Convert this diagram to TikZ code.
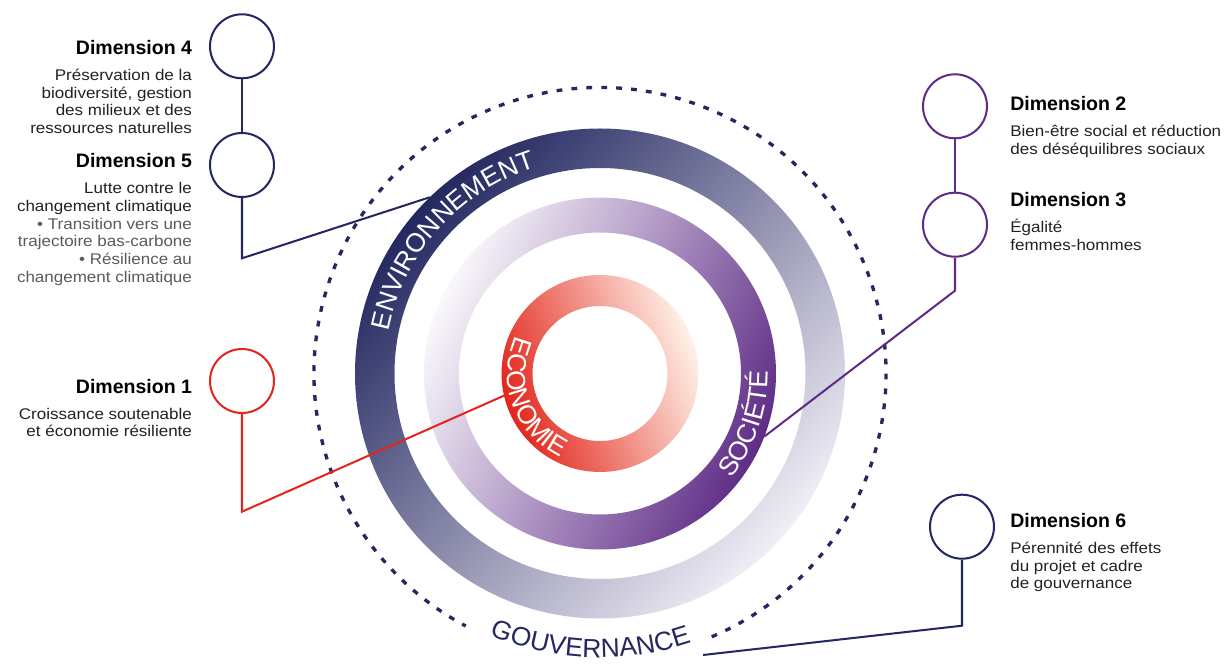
\documentclass[tikz,border=0pt]{standalone}
\usepackage{fontspec}
\setmainfont{Liberation Sans}
\newfontfamily\bodyfont{Liberation Sans}[FakeStretch=1.1]
\usetikzlibrary{decorations.text}
\definecolor{envnavy}{RGB}{35,40,96}
\definecolor{envmid}{RGB}{88,74,128}
\definecolor{envlight}{RGB}{241,238,246}
\definecolor{socpurple}{RGB}{94,44,134}
\definecolor{socmid}{RGB}{162,134,194}
\definecolor{soclight}{RGB}{250,248,252}
\definecolor{ecored}{RGB}{226,38,28}
\definecolor{ecomid}{RGB}{240,138,84}
\definecolor{ecolight}{RGB}{254,242,232}
\definecolor{textdark}{RGB}{34,34,34}
\definecolor{textgray}{RGB}{90,90,90}
\newcommand\headfont{\normalfont\bfseries\fontsize{11.1}{10.07}\selectfont\color{black}}
\newcommand\ringfont{\fontsize{15}{16}\selectfont}

\begin{document}
\begin{tikzpicture}[
dimcircle/.style={circle, draw=#1, line width=1.15pt, minimum size=1.28cm, inner sep=0pt},
link/.style={draw=#1, line width=1.15pt},
dimtext/.style={inner sep=0pt, font=\bodyfont\fontsize{8.8}{10.07}\selectfont, text=textdark},
leftdim/.style={dimtext, align=right, anchor=base east},
rightdim/.style={dimtext, align=left, anchor=base west}
]
\useasboundingbox (-12,-5.81) rectangle (12.62,7.47);

% gouvernance
\draw[envnavy, line width=1.9pt, dash pattern=on 3.3pt off 5.2pt] (293:5.72) arc[start angle=293, end angle=602, radius=5.72];
\path[decorate, decoration={text along path, text align=center, text={|\ringfont\color{envnavy}|GOUVERNANCE}}] (238:5.68) arc[start angle=238, end angle=298, radius=5.68];

% rings
\shade[even odd rule, top color=envnavy, middle color=envmid, bottom color=envlight, shading angle=48] (0,0) circle (4.9) (0,0) circle (4.11);
\shade[even odd rule, top color=socpurple, middle color=socmid, bottom color=soclight, shading angle=-115] (0,0) circle (3.52) (0,0) circle (2.82);
\shade[even odd rule, top color=ecored, middle color=ecomid, bottom color=ecolight, shading angle=110] (0,0) circle (1.97) (0,0) circle (1.35);

\path[decorate, decoration={text along path, text align=center, text={|\ringfont\color{white}|ENVIRONNEMENT}}] (178:4.32) arc[start angle=178, end angle=98, radius=4.32];
\path[decorate, decoration={text along path, text align=center, text={|\ringfont\color{white}|SOCIÉTÉ}}] (-60:3.36) arc[start angle=-60, end angle=22, radius=3.36];
\path[decorate, decoration={text along path, text align=center, text={|\ringfont\color{white}|ECONOMIE}}] (140:1.85) arc[start angle=140, end angle=261, radius=1.85];

% dimensions
\node[dimcircle=envnavy] (d4) at (-7.16,6.544) {};
\node[dimcircle=envnavy] (d5) at (-7.16,4.17) {};
\node[dimcircle=ecored] (d1) at (-7.16,-0.15) {};
\node[dimcircle=socpurple] (d2) at (7.1,5.344) {};
\node[dimcircle=socpurple] (d3) at (7.1,2.976) {};
\node[dimcircle=envnavy] (d6) at (7.24,-3.064) {};

\coordinate (d5knee) at (-7.16,2.304);
\coordinate (envtouch) at (134:4.9);
\coordinate (d1knee) at (-7.16,-2.764);
\coordinate (ecotouch) at (193:1.97);
\coordinate (d3knee) at (7.1,1.656);
\coordinate (soctouch) at (-21:3.52);
\coordinate (d6knee) at (7.24,-5.044);
\coordinate (govtouch) at (2.06,-5.63);

\draw[link=envnavy] (d4) -- (d5);
\draw[link=envnavy] (d5) -- (d5knee) -- (envtouch);
\draw[link=ecored] (d1) -- (d1knee) -- (ecotouch);
\draw[link=socpurple] (d2) -- (d3);
\draw[link=socpurple] (d3) -- (d3knee) -- (soctouch);
\draw[link=envnavy] (d6) -- (d6knee) -- (govtouch);

% texts (base = last line)
\node[leftdim] (t4) at (-8.154,4.802) {{\headfont Dimension 4}\\[4.7pt]Préservation de la\\biodiversité, gestion\\des milieux et des\\ressources naturelles};
\node[leftdim] (t5) at (-8.154,1.826) {{\headfont Dimension 5}\\[4.7pt]Lutte contre le\\changement climatique\\\textcolor{textgray}{• Transition vers une}\\\textcolor{textgray}{trajectoire bas-carbone}\\\textcolor{textgray}{• Résilience au}\\\textcolor{textgray}{changement climatique}};
\node[leftdim] (t1) at (-8.154,-1.27) {{\headfont Dimension 1}\\[4.7pt]Croissance soutenable\\et économie résiliente};
\node[rightdim] (t2) at (8.2,4.382) {{\headfont Dimension 2}\\[4.7pt]Bien-être social et réduction\\des déséquilibres sociaux};
\node[rightdim] (t3) at (8.2,2.462) {{\headfont Dimension 3}\\[4.7pt]Égalité\\femmes-hommes};
\node[rightdim] (t6) at (8.2,-4.304) {{\headfont Dimension 6}\\[4.7pt]Pérennité des effets\\du projet et cadre\\de gouvernance};
\end{tikzpicture}
\end{document}
